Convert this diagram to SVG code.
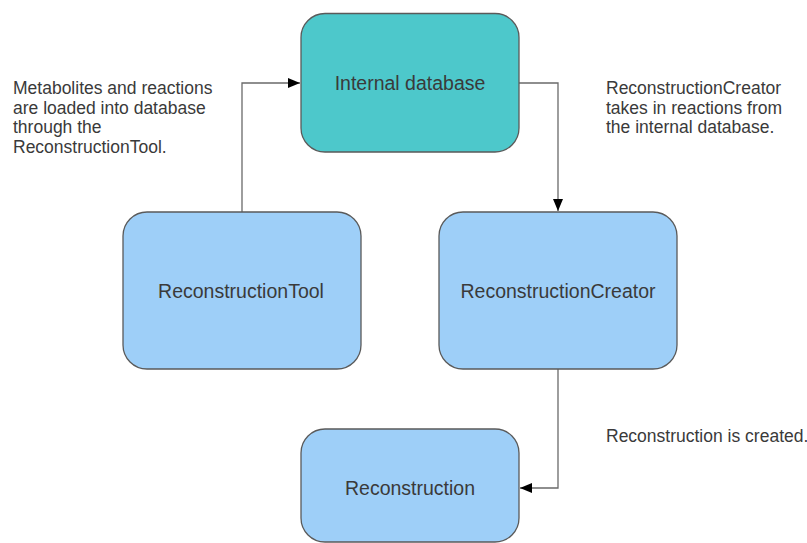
<svg xmlns="http://www.w3.org/2000/svg" width="807" height="543" viewBox="0 0 807 543">
<defs>
<style>
.box{stroke:#5a5a5a;stroke-width:1.3}
.teal{fill:#4dc8cb}
.blue{fill:#9ecff8}
.lbl{font-family:"Liberation Sans",Arial,sans-serif;font-size:19.5px;fill:#3a3a3a;text-anchor:middle}
.note{font-family:"Liberation Sans",Arial,sans-serif;font-size:17.5px;fill:#3a3a3a}
.conn{fill:none;stroke:#6a6a6a;stroke-width:1.3}
</style>
<marker id="arr" viewBox="0 0 12 10" refX="12" refY="5" markerWidth="12" markerHeight="10" markerUnits="userSpaceOnUse" orient="auto">
<path d="M0,0 L12,5 L0,10 Z" fill="#000"/>
</marker>
</defs>
<rect width="807" height="543" fill="#fff"/>
<g id="connectors">
<path class="conn" d="M242,212 V83 H300" marker-end="url(#arr)"/>
<path class="conn" d="M519,83 H558 V211" marker-end="url(#arr)"/>
<path class="conn" d="M558,369 V488 H520" marker-end="url(#arr)"/>
</g>
<g id="internal-database">
<rect class="box teal" x="301" y="13.5" width="218" height="138.5" rx="24"/>
<text class="lbl" x="410" y="90">Internal database</text>
</g>
<g id="reconstruction-tool">
<rect class="box blue" x="123" y="212" width="238" height="157" rx="24"/>
<text class="lbl" x="241" y="298">ReconstructionTool</text>
</g>
<g id="reconstruction-creator">
<rect class="box blue" x="439" y="212" width="238" height="157" rx="24"/>
<text class="lbl" x="558" y="298">ReconstructionCreator</text>
</g>
<g id="reconstruction">
<rect class="box blue" x="301" y="429" width="218" height="113" rx="24"/>
<text class="lbl" x="410" y="495">Reconstruction</text>
</g>
<g id="notes">
<text class="note" x="13" y="94">Metabolites and reactions</text>
<text class="note" x="13" y="113.5">are loaded into database</text>
<text class="note" x="13" y="133">through the</text>
<text class="note" x="13" y="152.5">ReconstructionTool.</text>
<text class="note" x="606" y="94">ReconstructionCreator</text>
<text class="note" x="606" y="113.5">takes in reactions from</text>
<text class="note" x="606" y="133">the internal database.</text>
<text class="note" x="606" y="442">Reconstruction is created.</text>
</g>
</svg>
